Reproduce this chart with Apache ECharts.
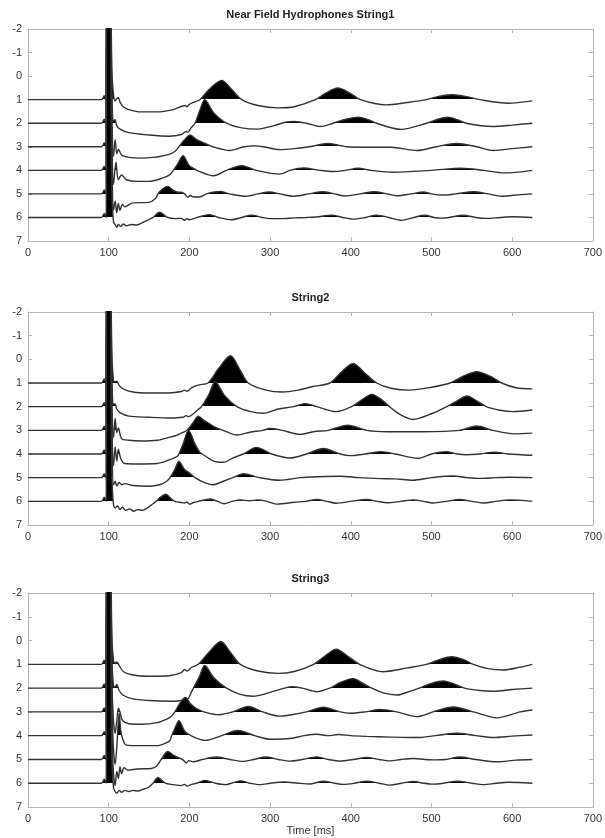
<!DOCTYPE html>
<html>
<head>
<meta charset="utf-8">
<script src="https://cdn.jsdelivr.net/npm/echarts@6/dist/echarts.min.js"></script>
<style>
  html, body { margin: 0; padding: 0; background: #fff; }
  #chart { width: 605px; height: 838px; }
</style>
</head>
<body>
<div id="chart"></div>
<script>
// Near-field hydrophone wiggle traces, three strings of six hydrophones each.
// Every trace is a list of [time ms, amplitude]; amplitude is plotted upward
// from the trace's own offset on the (reversed) depth axis.

const panelTitles = ['Near Field Hydrophones String1', 'String2', 'String3'];
const traceOffsets = [1, 2, 3, 4, 5, 6];
const timeTicks = [0, 100, 200, 300, 400, 500, 600, 700];
const offsetTicks = [-2, -1, 0, 1, 2, 3, 4, 5, 6, 7];

// Quiet lead-in, precursor blip and the main shot spike (common to every hydrophone)
const shotOnset = [[0,0],[91,0],[94.5,0.17],[97,0],[97.5,0],[98.5,11],[102,11],[103,4]];

// ---- String 1 ----
const s1Trace1 = [[104,1.2],[106,0.2],[108,-0.05],[110,0.05],[112,0.08],[114,-0.1],[118,-0.3],[125,-0.42],[140,-0.52],[160,-0.52],[180,-0.42],[195,-0.25],[197,-0.3],[200,-0.2],[206,-0.1],[213,0],[225,0.45],[240,0.82],[252,0.45],[265,0],[285,-0.25],[310,-0.35],[330,-0.3],[356,0],[370,0.3],[384,0.5],[398,0.3],[412,0],[444,-0.22],[470,-0.12],[494,0],[510,0.15],[527,0.21],[545,0.12],[560,0],[595,-0.15],[625,-0.05]];
const s1Trace2 = [[104,1.2],[106,0.1],[108,0.15],[110,-0.1],[114,-0.25],[125,-0.4],[150,-0.5],[175,-0.55],[190,-0.48],[196,-0.35],[198,-0.38],[202,-0.2],[207,0],[213,0.55],[219,1.0],[230,0.45],[246,0],[265,-0.2],[285,-0.25],[305,-0.1],[320,0.05],[330,0.07],[345,0],[362,-0.14],[378,0],[394,0.17],[409,0.26],[422,0.15],[432,0],[462,-0.26],[494,0],[508,0.17],[520,0.26],[532,0.15],[543,0],[576,-0.14],[600,-0.08],[625,0]];
const s1Trace3 = [[104,1.2],[106,-0.4],[108,0.3],[110,-0.3],[112,-0.1],[116,-0.35],[125,-0.45],[140,-0.48],[155,-0.45],[165,-0.4],[175,-0.32],[182,-0.2],[187,0],[194,0.3],[201,0.5],[209,0.3],[219,0.15],[229,0],[250,-0.16],[268,0],[280,0.04],[292,0],[312,-0.12],[330,-0.08],[349,0],[372,0.14],[395,0],[420,-0.02],[450,-0.02],[482,-0.16],[506,0],[531,0.14],[556,0],[577,-0.16],[600,-0.08],[625,0]];
const s1Trace4 = [[104,1.2],[106,-0.6],[109,0.35],[112,-0.4],[116,-0.2],[122,-0.4],[135,-0.47],[150,-0.47],[165,-0.35],[176,-0.18],[180,0],[186,0.3],[192,0.62],[200,0.2],[207,0.05],[209,0],[230,-0.23],[246,0],[265,0.2],[283,0],[312,-0.16],[325,0],[341,0.1],[362,0],[378,-0.05],[394,0],[409,0.09],[425,0],[452,-0.08],[500,0],[537,0.09],[565,0],[590,-0.11],[625,0]];
const s1Trace5 = [[104,1.2],[106,-0.7],[108,-0.3],[110,-0.8],[112,-0.4],[114,-0.7],[117,-0.45],[120,-0.55],[130,-0.38],[150,-0.36],[158,-0.2],[161,0],[167,0.22],[173,0.32],[180,0.15],[186,0.07],[190,0.07],[194,0],[198,-0.14],[201,-0.07],[204,-0.12],[213,-0.13],[221,0],[238,0.1],[250,0],[270,-0.1],[285,0],[299,0.08],[312,0],[330,-0.1],[348,0],[365,0.09],[380,0],[393,-0.09],[412,0],[429,0.09],[445,0],[457,-0.08],[475,0],[490,0.08],[500,0],[513,-0.05],[530,0],[552,0.09],[570,0],[587,-0.1],[610,-0.03],[625,0]];
const s1Trace6 = [[104,1.0],[106,-0.2],[108,-0.3],[110,-0.42],[112,-0.3],[115,-0.38],[118,-0.28],[122,-0.35],[128,-0.3],[135,-0.32],[140,-0.25],[149,-0.1],[155,0],[163,0.22],[173,0],[182,-0.05],[190,-0.04],[194,-0.12],[197,-0.05],[200,-0.1],[210,0],[225,0.12],[236,0],[252,-0.1],[265,0],[277,0.1],[290,0],[300,-0.05],[312,-0.05],[330,-0.02],[345,0],[360,0.03],[376,0.1],[390,0],[403,-0.07],[418,0],[432,0.1],[447,0],[463,-0.12],[478,0],[492,0.09],[503,0],[512,-0.03],[522,0],[539,0.09],[555,0],[568,-0.04],[585,0],[601,0.03],[625,0]];

// ---- String 2 ----
const s2Trace1 = [[104,1.2],[106,0.1],[108,0.05],[110,0.08],[113,-0.1],[118,-0.25],[130,-0.38],[150,-0.42],[175,-0.42],[190,-0.36],[194,-0.3],[197,-0.35],[203,-0.2],[212,-0.08],[223,0],[236,0.6],[251,1.15],[262,0.6],[273,0],[295,-0.3],[315,-0.38],[335,-0.3],[353,-0.15],[374,0],[388,0.45],[403,0.83],[418,0.4],[432,0],[450,-0.22],[473,-0.3],[500,-0.18],[523,0],[540,0.3],[556,0.48],[572,0.3],[587,0],[605,-0.2],[625,-0.25]];
const s2Trace2 = [[104,1.2],[106,0.1],[108,0.12],[110,-0.1],[114,-0.25],[125,-0.4],[150,-0.45],[175,-0.48],[192,-0.45],[196,-0.38],[199,-0.42],[205,-0.3],[210,-0.15],[215,0],[224,0.5],[232,1.05],[244,0.45],[259,0],[275,-0.2],[292,-0.28],[310,-0.1],[329,0],[343,0.13],[358,0],[382,-0.21],[401,0],[414,0.3],[426,0.52],[438,0.3],[448,0],[462,-0.35],[477,-0.54],[500,-0.3],[519,0],[532,0.25],[544,0.45],[556,0.25],[568,0],[585,-0.15],[601,-0.21],[625,-0.14]];
const s2Trace3 = [[104,1.2],[106,-0.3],[108,0.5],[110,-0.1],[112,0.1],[116,-0.35],[125,-0.42],[140,-0.45],[160,-0.42],[175,-0.3],[185,-0.2],[190,-0.12],[197,0],[204,0.3],[211,0.6],[218,0.42],[223,0.32],[233,0.11],[242,0],[259,-0.2],[275,-0.08],[291,0],[300,0.08],[315,0],[337,-0.17],[355,-0.05],[372,0],[396,0.22],[420,0],[445,-0.06],[490,-0.06],[535,0],[556,0.18],[576,0],[603,-0.15],[625,-0.12]];
const s2Trace4 = [[104,1.2],[106,-0.5],[108,0.3],[110,-0.3],[112,0.2],[115,-0.2],[120,-0.4],[135,-0.42],[160,-0.4],[175,-0.25],[185,-0.1],[187,0],[192,0.4],[199,1.0],[207,0.42],[213,0.07],[216,0],[230,-0.3],[242,-0.35],[255,-0.15],[267,0],[283,0.28],[302,0],[325,-0.17],[345,0],[366,0.23],[387,0],[399,-0.07],[418,0],[438,0.1],[455,0],[484,-0.18],[500,0],[518,0.1],[532,0],[543,-0.03],[560,0],[578,0.08],[595,0],[625,-0.05]];
const s2Trace5 = [[104,1.2],[106,-0.3],[108,-0.15],[110,-0.35],[113,-0.2],[116,-0.3],[120,-0.25],[130,-0.33],[150,-0.36],[163,-0.3],[172,-0.15],[176,0],[182,0.35],[187,0.68],[194,0.35],[200,0.2],[207,0],[218,-0.2],[229,-0.3],[242,-0.15],[254,0],[267,0.17],[287,0],[312,-0.11],[337,0],[360,0.04],[387,0.06],[410,0],[436,-0.04],[455,-0.05],[477,-0.11],[500,0],[526,0.07],[545,0],[559,-0.03],[580,0],[596,0.02],[625,0]];
const s2Trace6 = [[104,1.0],[106,-0.15],[108,-0.28],[111,-0.2],[114,-0.35],[117,-0.25],[121,-0.38],[126,-0.32],[131,-0.42],[136,-0.35],[142,-0.38],[148,-0.28],[155,-0.1],[159,0],[165,0.2],[171,0.3],[177,0.12],[182,0],[190,-0.05],[194,-0.07],[197,-0.03],[200,-0.12],[205,-0.05],[211,0],[226,0.1],[235,0],[243,-0.1],[253,0],[263,0.06],[275,0.02],[284,0.06],[296,0],[309,-0.12],[330,-0.04],[344,0],[358,0.08],[370,0],[382,-0.08],[400,0],[420,0.08],[433,0],[445,-0.06],[462,0],[478,0.06],[490,0],[502,-0.07],[518,0],[535,0.08],[550,0],[564,-0.07],[580,0],[597,0.06],[625,0]];

// ---- String 3 ----
const s3Trace1 = [[104,1.2],[106,0.15],[108,0.05],[110,0.1],[113,-0.05],[118,-0.3],[130,-0.45],[150,-0.5],[175,-0.48],[190,-0.35],[194,-0.22],[197,-0.28],[203,-0.12],[211,0],[224,0.5],[239,0.96],[251,0.5],[263,0],[285,-0.28],[310,-0.38],[330,-0.3],[354,0],[368,0.35],[382,0.64],[396,0.35],[411,0],[440,-0.31],[470,-0.15],[494,0],[510,0.2],[525,0.32],[540,0.2],[552,0],[570,-0.18],[589,-0.24],[610,-0.12],[625,0]];
const s3Trace2 = [[104,1.2],[106,0.1],[108,0.05],[110,0.15],[113,-0.1],[118,-0.3],[130,-0.45],[150,-0.52],[175,-0.55],[190,-0.52],[195,-0.4],[198,-0.45],[202,-0.2],[205,0],[212,0.45],[219,0.95],[230,0.45],[246,0],[262,-0.25],[279,-0.34],[300,-0.18],[318,0],[327,0.06],[340,0],[358,-0.15],[374,0],[388,0.25],[403,0.4],[415,0.2],[426,0],[440,-0.2],[457,-0.29],[472,-0.15],[485,0],[500,0.2],[515,0.3],[530,0.15],[541,0],[560,-0.1],[577,-0.13],[600,-0.06],[625,0]];
const s3Trace3 = [[104,1.2],[106,-0.4],[108,-0.9],[110,-0.4],[112,0.15],[114,0],[117,-0.35],[125,-0.5],[140,-0.52],[160,-0.45],[172,-0.3],[178,-0.17],[182,0],[188,0.35],[195,0.6],[201,0.35],[206,0.2],[212,0.08],[218,0],[236,-0.12],[254,0],[273,0.23],[291,0],[312,-0.18],[325,-0.13],[345,0],[366,0.2],[387,0],[399,-0.06],[418,0],[436,0.1],[457,0],[482,-0.2],[502,0],[527,0.21],[552,0],[581,-0.25],[610,0],[625,0.08]];
const s3Trace4 = [[104,1.2],[106,-0.6],[108,-1.2],[110,-0.5],[113,0.95],[115,0.2],[118,-0.2],[122,-0.4],[135,-0.42],[160,-0.42],[170,-0.32],[176,-0.2],[178,0],[182,0.3],[187,0.63],[194,0.2],[202,0],[220,-0.2],[240,0],[260,0.22],[281,0],[300,-0.15],[325,-0.12],[342,0],[358,0.06],[372,0],[385,0.05],[400,0],[420,-0.03],[449,-0.06],[482,-0.08],[505,0],[532,0.1],[555,0],[577,-0.08],[600,-0.02],[625,0.03]];
const s3Trace5 = [[104,1.2],[106,-0.6],[108,-1.1],[110,-0.5],[112,-0.8],[114,-0.3],[116,-0.6],[119,-0.35],[124,-0.45],[135,-0.4],[153,-0.38],[160,-0.25],[165,0],[170,0.25],[173,0.34],[180,0.18],[185,0.1],[191,0],[194,-0.08],[196,-0.15],[199,-0.05],[205,-0.1],[216,0],[233,0.1],[250,0],[266,-0.08],[280,0],[295,0.1],[310,0],[325,-0.07],[340,0],[358,0.11],[372,0],[387,-0.07],[403,0],[420,0.08],[435,0],[449,-0.06],[462,0],[478,0.04],[492,0],[505,-0.02],[518,0],[535,0.1],[555,0],[581,-0.1],[605,-0.03],[625,0]];
const s3Trace6 = [[104,1.0],[106,-0.2],[108,-0.35],[110,-0.42],[113,-0.3],[116,-0.38],[120,-0.3],[125,-0.35],[130,-0.3],[136,-0.33],[143,-0.25],[149,-0.18],[155,0],[161,0.24],[170,0],[180,-0.06],[190,-0.1],[194,-0.05],[197,-0.12],[203,-0.05],[209,0],[219,0.12],[232,0],[245,-0.06],[252,0],[263,0.1],[275,0],[288,-0.06],[300,0],[318,0.05],[335,0],[350,-0.03],[366,0.09],[380,0],[391,-0.05],[405,0],[420,0.09],[435,0],[449,-0.08],[463,0],[478,0.07],[490,0],[502,-0.04],[515,0],[532,0.09],[550,0],[565,-0.06],[580,0],[595,0.04],[625,0]];

const strings = [
  [s1Trace1, s1Trace2, s1Trace3, s1Trace4, s1Trace5, s1Trace6],
  [s2Trace1, s2Trace2, s2Trace3, s2Trace4, s2Trace5, s2Trace6],
  [s3Trace1, s3Trace2, s3Trace3, s3Trace4, s3Trace5, s3Trace6]
];

// ---- layout ----
const FONT = '"Liberation Sans", Arial, Helvetica, sans-serif';
const frameColor = '#b4b4b4';
const labelColor = '#333';
const gridBoxes = [
  { top: 29, height: 212 },
  { top: 312, height: 213 },
  { top: 593, height: 214 }
];

const grid = gridBoxes.map(b => ({ left: 28, right: 12, top: b.top, height: b.height }));

const xAxis = [];
const yAxis = [];
gridBoxes.forEach((b, g) => {
  const common = {
    gridIndex: g, type: 'value', min: timeTicks[0], max: timeTicks[timeTicks.length - 1],
    interval: timeTicks[1] - timeTicks[0],
    axisLine: { show: true, onZero: false, lineStyle: { color: frameColor, width: 1 } },
    axisTick: { show: true, inside: true, length: 4, lineStyle: { color: frameColor } },
    splitLine: { show: false }
  };
  xAxis.push(Object.assign({}, common, {
    position: 'bottom',
    axisLabel: { color: labelColor, fontSize: 11, fontFamily: FONT, margin: 6 },
    name: g === gridBoxes.length - 1 ? 'Time [ms]' : '',
    nameLocation: 'middle', nameGap: 18,
    nameTextStyle: { color: labelColor, fontSize: 11, fontFamily: FONT }
  }));
  xAxis.push(Object.assign({}, common, {
    position: 'top',
    axisLabel: { show: false },
    name: panelTitles[g], nameLocation: 'middle', nameGap: 9,
    nameTextStyle: { color: '#222', fontSize: 11, fontWeight: 'bold', fontFamily: FONT }
  }));
  const yCommon = {
    gridIndex: g, type: 'value', inverse: true,
    min: offsetTicks[0], max: offsetTicks[offsetTicks.length - 1], interval: 1,
    axisLine: { show: true, onZero: false, lineStyle: { color: frameColor, width: 1 } },
    axisTick: { show: true, inside: true, length: 4, lineStyle: { color: frameColor } },
    splitLine: { show: false }
  };
  yAxis.push(Object.assign({}, yCommon, {
    position: 'left',
    axisLabel: { color: labelColor, fontSize: 11, fontFamily: FONT, margin: 6 }
  }));
  yAxis.push(Object.assign({}, yCommon, { position: 'right', axisLabel: { show: false } }));
});

// Each trace: dark outline, with only its upward lobes filled (fill colour
// switches just above the trace's own offset through a piecewise visualMap on y,
// so the zero line itself stays unpainted).
const fillEdge = 0.015;
const series = [];
const visualMap = [];
strings.forEach((traces, g) => {
  traces.forEach((trace, i) => {
    const offset = traceOffsets[i];
    const data = shotOnset.concat(trace).map(p => [p[0], offset - p[1]]);
    visualMap.push({
      type: 'piecewise', show: false, seriesIndex: series.length, dimension: 1,
      pieces: [
        { gte: -100, lt: offset - fillEdge, color: '#000' },
        { gte: offset - fillEdge, lte: 100, color: 'rgba(0,0,0,0)' }
      ],
      outOfRange: { color: 'rgba(0,0,0,0)' }
    });
    series.push({
      type: 'line',
      xAxisIndex: g * 2, yAxisIndex: g * 2,
      data: data,
      showSymbol: false, symbol: 'none',
      smooth: 0.3,
      clip: true,
      lineStyle: { color: '#333', width: 1.4 },
      areaStyle: { origin: offset, opacity: 1 },
      z: 2 + i,
      silent: true
    });
  });
});

const chart = echarts.init(document.getElementById('chart'), null, { renderer: 'canvas' });
chart.setOption({
  animation: false,
  backgroundColor: '#fff',
  grid, xAxis, yAxis, visualMap, series
});
</script>
</body>
</html>
